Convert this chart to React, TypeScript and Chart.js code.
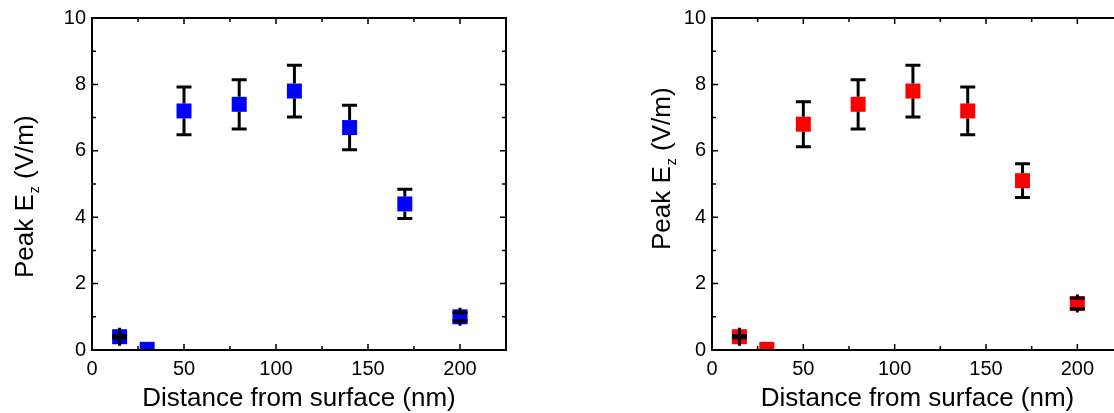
import React, { useEffect, useRef } from "react";
import { Chart, registerables } from "chart.js";

Chart.register(...registerables);

// ---- data ----
const distances = [15, 30, 50, 80, 110, 140, 170, 200];
const leftPeak = [0.4, 0.02, 7.2, 7.4, 7.8, 6.7, 4.4, 1.0];
const leftErr = [0.03, 0, 0.72, 0.74, 0.78, 0.67, 0.44, 0.12];
const rightPeak = [0.4, 0.02, 6.8, 7.4, 7.8, 7.2, 5.1, 1.4];
const rightErr = [0.03, 0, 0.68, 0.74, 0.78, 0.72, 0.51, 0.16];
const xTickValues = [0, 50, 100, 150, 200];
const xMinorValues = [25, 75, 125, 175];
const yTickValues = [0, 2, 4, 6, 8, 10];
const yMinorValues = [1, 3, 5, 7, 9];
const xTitle = "Distance from surface (nm)";
const yTitleParts = ["Peak E", "z", " (V/m)"];

const FONT = '"Liberation Sans", Arial, Helvetica, sans-serif';

const panelPlugin = {
  id: "panelDecor",
  afterDatasetsDraw(chart: any, _args: any, opts: any) {
    const { ctx, chartArea: a, scales } = chart;
    const x = scales.x;
    const y = scales.y;
    const half = opts.markerHalf;
    const capHalf = opts.capHalf;
    // error bars
    ctx.save();
    ctx.beginPath();
    ctx.rect(a.left, a.top, a.right - a.left, a.bottom - a.top);
    ctx.clip();
    ctx.strokeStyle = "#000";
    ctx.lineWidth = 3;
    ctx.lineCap = "butt";
    opts.values.forEach((v: number, i: number) => {
      const e = opts.errors[i];
      if (!e) return;
      const px = x.getPixelForValue(opts.xs[i]);
      const py = y.getPixelForValue(v);
      const pt = y.getPixelForValue(v + e);
      const pb = y.getPixelForValue(v - e);
      const inside = py - pt < half;
      ctx.beginPath();
      ctx.moveTo(px, pt);
      ctx.lineTo(px, py - half - (inside ? 1.5 : 0));
      ctx.moveTo(px, pb);
      ctx.lineTo(px, py + half + (inside ? 1.5 : 0));
      ctx.moveTo(px - capHalf, pt);
      ctx.lineTo(px + capHalf, pt);
      ctx.moveTo(px - capHalf, pb);
      ctx.lineTo(px + capHalf, pb);
      ctx.stroke();
    });
    ctx.restore();

    // frame + inward ticks on all four sides
    ctx.save();
    ctx.strokeStyle = "#000";
    ctx.lineWidth = 2;
    ctx.strokeRect(a.left, a.top, a.right - a.left, a.bottom - a.top);
    ctx.lineWidth = 1.5;
    const major = 6;
    const minor = 4;
    ctx.beginPath();
    const xt = (vals: number[], len: number) => {
      vals.forEach((v) => {
        const p = x.getPixelForValue(v);
        ctx.moveTo(p, a.bottom);
        ctx.lineTo(p, a.bottom - len);
        ctx.moveTo(p, a.top);
        ctx.lineTo(p, a.top + len);
      });
    };
    const yt = (vals: number[], len: number) => {
      vals.forEach((v) => {
        const p = y.getPixelForValue(v);
        ctx.moveTo(a.left, p);
        ctx.lineTo(a.left + len, p);
        ctx.moveTo(a.right, p);
        ctx.lineTo(a.right - len, p);
      });
    };
    xt(xTickValues, major);
    xt(xMinorValues, minor);
    yt(yTickValues, major);
    yt(yMinorValues, minor);
    ctx.stroke();
    ctx.restore();
  },
  afterDraw(chart: any, _args: any, opts: any) {
    const { ctx, chartArea: a } = chart;
    ctx.save();
    ctx.fillStyle = "#000";
    // x title
    ctx.font = `26px ${FONT}`;
    ctx.textAlign = "center";
    ctx.textBaseline = "alphabetic";
    ctx.fillText(xTitle, (a.left + a.right) / 2, opts.xTitleBaseline);
    // y title with subscript, rotated
    ctx.translate(opts.yTitleX, opts.yTitleStartY);
    ctx.rotate(-Math.PI / 2);
    ctx.textAlign = "left";
    let cx = 0;
    const mainFont = `26px ${FONT}`;
    const subFont = `14px ${FONT}`;
    ctx.font = mainFont;
    ctx.fillText(yTitleParts[0], cx, 0);
    cx += ctx.measureText(yTitleParts[0]).width + 1;
    ctx.font = subFont;
    ctx.fillText(yTitleParts[1], cx, 6);
    cx += ctx.measureText(yTitleParts[1]).width;
    ctx.font = mainFont;
    ctx.fillText(yTitleParts[2], cx, 0);
    ctx.restore();
  },
};

function makeConfig(values: number[], errors: number[], color: string, rightPad: number, yTitleX: number, yTitleStartY: number): any {
  return {
    type: "scatter",
    data: {
      datasets: [
        {
          data: distances.map((d, i) => ({ x: d, y: values[i] })),
          pointStyle: "rect",
          pointRadius: 10.6,
          pointHoverRadius: 10.6,
          backgroundColor: color,
          borderWidth: 0,
          showLine: false,
          clip: 0,
        },
      ],
    },
    options: {
      responsive: false,
      animation: false,
      devicePixelRatio: 1,
      events: [],
      layout: { padding: { left: 0, top: 17, right: rightPad, bottom: 0 } },
      plugins: {
        legend: { display: false },
        tooltip: { enabled: false },
        panelDecor: {
          xs: distances,
          values,
          errors,
          markerHalf: 7.5,
          capHalf: 7.5,
          xTitleBaseline: 406,
          yTitleX,
          yTitleStartY,
        },
      },
      scales: {
        x: {
          type: "linear",
          min: 0,
          max: 225,
          grid: { display: false, drawTicks: false },
          border: { display: false },
          ticks: { color: "#000", font: { family: FONT, size: 20 }, padding: 7, maxRotation: 0 },
          afterBuildTicks: (s: any) => {
            s.ticks = xTickValues.map((v) => ({ value: v }));
          },
          afterFit: (s: any) => {
            s.height = 63;
          },
        },
        y: {
          type: "linear",
          min: 0,
          max: 10,
          grid: { display: false, drawTicks: false },
          border: { display: false },
          ticks: { color: "#000", font: { family: FONT, size: 20 }, padding: 6 },
          afterBuildTicks: (s: any) => {
            s.ticks = yTickValues.map((v) => ({ value: v }));
          },
          afterFit: (s: any) => {
            s.width = 92;
          },
        },
      },
    },
    plugins: [panelPlugin],
  };
}

function Panel(props: { values: number[]; errors: number[]; color: string; left: number; rightPad: number; yTitleX: number; yTitleStartY: number }) {
  const ref = useRef<HTMLCanvasElement | null>(null);
  useEffect(() => {
    if (!ref.current) return;
    const chart = new Chart(
      ref.current,
      makeConfig(props.values, props.errors, props.color, props.rightPad, props.yTitleX, props.yTitleStartY)
    );
    return () => chart.destroy();
  }, []);
  return (
    <canvas
      ref={ref}
      width={560}
      height={413}
      style={{ position: "absolute", left: props.left, top: 0, width: 560, height: 413 }}
    />
  );
}

export default function App() {
  return (
    <div
      style={{
        position: "fixed",
        left: 0,
        top: 0,
        width: 1114,
        height: 413,
        overflow: "hidden",
        background: "#fff",
      }}
    >
      <Panel values={leftPeak} errors={leftErr} color="#0000FF" left={0} rightPad={54} yTitleX={32.5} yTitleStartY={278} />
      <Panel values={rightPeak} errors={rightErr} color="#FF0000" left={620} rightPad={57} yTitleX={50} yTitleStartY={250} />
    </div>
  );
}
